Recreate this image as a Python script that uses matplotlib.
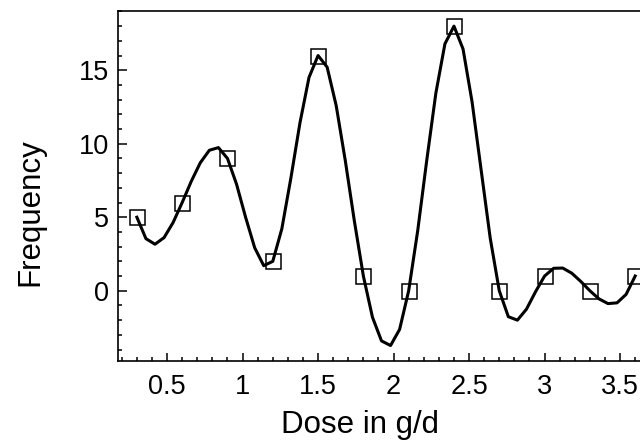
import numpy as np
import matplotlib
matplotlib.use("Agg")
import matplotlib.pyplot as plt
from matplotlib.ticker import MultipleLocator

# data
dose = [0.3, 0.6, 0.9, 1.2, 1.5, 1.8, 2.1, 2.4, 2.7, 3.0, 3.3, 3.6]
freq = [5, 6, 9, 2, 16, 1, 0, 18, 0, 1, 0, 1]


def notaknot_spline(x, y, xs):
    # cubic spline with not-a-knot ends (same as scipy's default)
    x = np.asarray(x, float)
    y = np.asarray(y, float)
    n = len(x)
    h = np.diff(x)
    A = np.zeros((n, n))
    b = np.zeros(n)
    for i in range(1, n - 1):
        A[i, i - 1] = h[i - 1]
        A[i, i] = 2 * (h[i - 1] + h[i])
        A[i, i + 1] = h[i]
        b[i] = 6 * ((y[i + 1] - y[i]) / h[i] - (y[i] - y[i - 1]) / h[i - 1])
    A[0, :3] = [h[1], -(h[0] + h[1]), h[0]]
    A[-1, -3:] = [h[-1], -(h[-2] + h[-1]), h[-2]]
    M = np.linalg.solve(A, b)
    idx = np.clip(np.searchsorted(x, xs) - 1, 0, n - 2)
    x0, x1 = x[idx], x[idx + 1]
    hh = x1 - x0
    t0, t1 = x1 - xs, xs - x0
    return (M[idx] * t0**3 / (6 * hh) + M[idx + 1] * t1**3 / (6 * hh)
            + (y[idx] / hh - M[idx] * hh / 6) * t0
            + (y[idx + 1] / hh - M[idx + 1] * hh / 6) * t1)


plt.rcParams['font.family'] = ['Liberation Sans', 'DejaVu Sans']

fig = plt.figure(figsize=(6.4, 4.47), dpi=100)
xmin, xmax = 0.175, 3.8
ymin, ymax = -4.8, 19.05
# axes runs past the right edge of the picture, as in the original
ax = fig.add_axes([118 / 640, (447 - 361.3) / 447,
                   (xmax - xmin) * 151 / 640, (361.3 - 10.7) / 447])

xs = np.linspace(dose[0], dose[-1], 56)
ax.plot(xs, notaknot_spline(dose, freq, xs), color='black', lw=2.2, zorder=2)
ax.plot(dose, freq, linestyle='none', marker='s', markersize=10.8,
        markerfacecolor='none', markeredgecolor='black', markeredgewidth=1.1,
        zorder=3)

ax.set_xlim(xmin, xmax)
ax.set_ylim(ymin, ymax)
ax.xaxis.set_minor_locator(MultipleLocator(0.1))
ax.yaxis.set_minor_locator(MultipleLocator(1))
ax.set_xticks([0.5, 1, 1.5, 2, 2.5, 3, 3.5])
ax.set_xticklabels(['0.5', '1', '1.5', '2', '2.5', '3', '3.5'])
ax.set_yticks([0, 5, 10, 15])
ax.tick_params(which='both', direction='in', top=False, right=False,
               labelsize=19.5, width=1.1)
ax.tick_params(axis='x', which='major', length=6, pad=9)
ax.tick_params(axis='y', which='major', length=6.5, pad=6.5)
ax.tick_params(which='minor', length=3.2)
for s in ax.spines.values():
    s.set_linewidth(1.2)

fig.text(360 / 640, 1 - 433 / 447, 'Dose in g/d', fontsize=22.5,
         ha='center', va='baseline')
fig.text(30 / 640, 1 - 212 / 447, 'Frequency', fontsize=22.5,
         ha='center', va='center', rotation=90)

fig.savefig('out.png', dpi=100)
